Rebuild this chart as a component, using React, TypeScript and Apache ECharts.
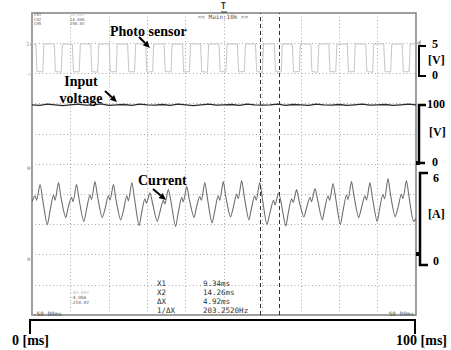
import React, { useEffect, useRef } from "react";
import * as echarts from "echarts";

// time axis (ms) and channel ranges
const timeRange = [0, 100];
const currentRange = [-4, 16]; // A, 2 A/div
const photoRange = [-40, 10]; // V, 5 V/div
const voltageRange = [-250, 250]; // V, 50 V/div
const cursorTimes = [59.34, 64.26];

// photo sensor (V) [t ms, v]
const photoPoints: [number, number][] = [
  [0, 4.85], [1.0, 4.85], [1.3, 0.3], [2.8, 0.25], [3.1, 4.85],
  [5.8, 4.9], [6.1, 0.3], [7.6, 0.2], [7.9, 4.85],
  [10.5, 4.85], [10.8, 0.25], [12.3, 0.3], [12.6, 4.9],
  [15.3, 4.85], [15.6, 0.3], [17.1, 0.2], [17.4, 4.85],
  [20.1, 4.9], [20.4, 0.25], [21.9, 0.3], [22.2, 4.85],
  [24.9, 4.85], [25.2, 0.3], [26.7, 0.25], [27.0, 4.9],
  [29.6, 4.85], [29.9, 0.2], [31.4, 0.3], [31.7, 4.85],
  [34.4, 4.9], [34.7, 0.3], [36.2, 0.25], [36.5, 4.85],
  [39.2, 4.85], [39.5, 0.25], [41.0, 0.3], [41.3, 4.9],
  [43.9, 4.85], [44.2, 0.3], [45.7, 0.2], [46.0, 4.85],
  [48.7, 4.9], [49.0, 0.3], [50.5, 0.25], [50.8, 4.85],
  [53.5, 4.85], [53.8, 0.25], [55.3, 0.3], [55.6, 4.9],
  [58.2, 4.85], [58.5, 0.3], [60.0, 0.2], [60.3, 4.85],
  [63.1, 4.9], [63.4, 0.3], [64.9, 0.25], [65.2, 4.85],
  [67.8, 4.85], [68.1, 0.25], [69.6, 0.3], [69.9, 4.9],
  [72.6, 4.85], [72.9, 0.3], [74.4, 0.2], [74.7, 4.85],
  [77.3, 4.9], [77.6, 0.3], [79.1, 0.25], [79.4, 4.85],
  [82.1, 4.85], [82.4, 0.25], [83.9, 0.3], [84.2, 4.9],
  [86.9, 4.85], [87.2, 0.3], [88.7, 0.2], [89.0, 4.85],
  [91.6, 4.9], [91.9, 0.3], [93.4, 0.25], [93.7, 4.85],
  [96.4, 4.85], [96.7, 0.25], [98.2, 0.3], [98.5, 4.9],
  [100, 4.85],
];

// input voltage (V) [t ms, v]
const voltagePoints: [number, number][] = [
  [0, 98], [2, 97], [4, 99], [6, 98], [8, 96.5], [10, 98], [12, 99], [14, 97.5],
  [16, 98], [18, 99.5], [20, 97], [22, 98], [24, 98.5], [26, 97], [28, 99], [30, 98],
  [32, 97.5], [34, 98.5], [36, 97], [38, 99], [40, 98], [42, 96.5], [44, 98], [46, 99],
  [48, 97.5], [50, 98], [52, 98.5], [54, 97], [56, 99], [58, 98], [60, 97.5], [62, 98],
  [64, 99], [66, 97], [68, 98.5], [70, 98], [72, 97], [74, 99], [76, 98], [78, 97.5],
  [80, 98.5], [82, 97], [84, 98], [86, 99], [88, 97.5], [90, 98], [92, 98.5], [94, 97],
  [96, 98], [98, 99], [100, 98],
];

// current (A) [t ms, i]
const currentPoints: [number, number][] = [
  [0, 3.5], [0.8, 3.9], [1.2, 3.6], [2.1, 4.64], [2.8, 3.6], [4.0, 1.99],
  [4.7, 2.9], [5.6, 3.95], [6.0, 3.6], [6.9, 4.77], [7.6, 3.7], [8.8, 2.45],
  [9.4, 3.1], [10.3, 3.8], [10.7, 3.5], [11.6, 4.64], [12.3, 3.6], [13.5, 2.19],
  [14.2, 3.0], [15.1, 3.95], [15.5, 3.65], [16.4, 4.83], [17.1, 3.8], [18.3, 2.45],
  [19.0, 3.0], [19.9, 3.9], [20.3, 3.6], [21.2, 4.64], [21.9, 3.6], [23.1, 2.3],
  [23.8, 2.9], [24.7, 3.9], [25.1, 3.55], [26.0, 4.77], [26.7, 3.7], [27.9, 1.92],
  [28.5, 2.7], [29.4, 3.7], [29.8, 3.4], [30.7, 4.1], [31.4, 3.4], [32.6, 2.2],
  [33.3, 2.8], [34.2, 3.6], [34.6, 3.35], [35.5, 4.3], [36.2, 3.5], [37.4, 1.85],
  [38.1, 2.8], [39.0, 3.8], [39.4, 3.5], [40.3, 4.5], [41.0, 3.6], [42.2, 2.45],
  [42.8, 3.1], [43.7, 3.85], [44.1, 3.6], [45.0, 4.77], [45.7, 3.7], [46.9, 2.1],
  [47.6, 2.9], [48.5, 3.9], [48.9, 3.6], [49.8, 4.83], [50.5, 3.8], [51.7, 2.5],
  [52.4, 3.1], [53.3, 4.0], [53.7, 3.7], [54.6, 4.9], [55.3, 3.8], [56.5, 2.3],
  [57.1, 3.0], [58.0, 3.9], [58.4, 3.6], [59.3, 4.77], [60.0, 3.7], [61.2, 2.0],
  [62.0, 2.8], [62.9, 3.6], [63.3, 3.3], [64.2, 4.1], [64.9, 3.4], [66.1, 1.9],
  [66.7, 2.7], [67.6, 3.7], [68.0, 3.45], [68.9, 4.3], [69.6, 3.5], [70.8, 2.5],
  [71.5, 3.1], [72.4, 3.8], [72.8, 3.5], [73.7, 4.37], [74.4, 3.6], [75.6, 2.3],
  [76.2, 3.0], [77.1, 3.9], [77.5, 3.6], [78.4, 4.7], [79.1, 3.7], [80.3, 2.0],
  [81.0, 2.9], [81.9, 3.95], [82.3, 3.65], [83.2, 4.83], [83.9, 3.8], [85.1, 2.45],
  [85.8, 3.1], [86.7, 3.9], [87.1, 3.6], [88.0, 4.77], [88.7, 3.7], [89.9, 2.2],
  [90.5, 3.0], [91.4, 4.0], [91.8, 3.7], [92.7, 5.03], [93.4, 3.9], [94.6, 2.5],
  [95.3, 3.1], [96.2, 4.0], [96.6, 3.7], [97.5, 4.9], [98.2, 3.8], [99.4, 2.2],
  [100, 2.4],
];

// scope texts
const channelNames = ["CH1", "CH2", "CH5"];
const channelTop = ["40.00V", "16.00A", "250.0V"];
const channelBottom = ["-40.00V", "-4.00A", "-250.0V"];
const cursorNames = ["X1", "X2", "\u0394X", "1/\u0394X"];
const cursorValues = ["9.34ms", "14.26ms", "4.92ms", "203.2520Hz"];

const SERIF = '"Liberation Serif", "Times New Roman", serif';
const MONO = '"DejaVu Sans Mono", "Liberation Mono", monospace';

function txt(text: string, x: number, y: number, font: string, fill = "#000", align = "left") {
  return {
    type: "text",
    z: 100,
    style: { text, x, y, font, fill, align, verticalAlign: "middle" },
  };
}

function arrow(x1: number, y1: number, x2: number, y2: number) {
  const dx = x2 - x1;
  const dy = y2 - y1;
  const len = Math.sqrt(dx * dx + dy * dy);
  const ux = dx / len;
  const uy = dy / len;
  const hl = 7;
  const hw = 3.2;
  const bx = x2 - ux * hl;
  const by = y2 - uy * hl;
  return [
    {
      type: "line",
      z: 100,
      shape: { x1, y1, x2: bx, y2: by },
      style: { stroke: "#000", lineWidth: 2 },
    },
    {
      type: "polygon",
      z: 100,
      shape: {
        points: [
          [x2, y2],
          [bx - uy * hw, by + ux * hw],
          [bx + uy * hw, by - ux * hw],
        ],
      },
      style: { fill: "#000" },
    },
  ];
}

function bracket(pts: number[][], w = 2) {
  return {
    type: "polyline",
    z: 100,
    shape: { points: pts },
    style: { stroke: "#000", lineWidth: w, fill: "none" },
  };
}

export default function App() {
  const ref = useRef<HTMLDivElement>(null);
  useEffect(() => {
    if (!ref.current) return;
    const chart = echarts.init(ref.current, null, { renderer: "svg" });
    const gridLine = { color: "#a8a8a8", width: 1, type: [1, 2.5] as any };
    const graphics: any[] = [];
    // top-left channel info
    channelNames.forEach((n, i) => {
      graphics.push(txt(n, 34, 14.5 + i * 4.7, `4px ${MONO}`, "#666"));
      graphics.push(txt(channelTop[i], 70, 14.5 + i * 4.7, `4px ${MONO}`, i === 0 ? "#bbb" : "#666"));
      graphics.push(txt(channelBottom[i], 70, 292.5 + i * 5.2, `4.5px ${MONO}`, i === 0 ? "#bbb" : "#666"));
    });
    graphics.push(txt("<< Main:10k >>", 223, 16, `6px ${MONO}`, "#555", "center"));
    graphics.push(txt("T", 223.5, 6.5, `bold 8px ${MONO}`, "#333", "center"));
    graphics.push({ type: "line", z: 100, shape: { x1: 221, y1: 12, x2: 227, y2: 12 }, style: { stroke: "#333", lineWidth: 1 } });
    graphics.push(txt("-50.00ms", 33, 313, `6px ${MONO}`, "#555"));
    graphics.push(txt("50.00ms", 414, 313, `6px ${MONO}`, "#555", "right"));
    cursorNames.forEach((n, i) => {
      graphics.push(txt(n, 157, 283.5 + i * 9, `7.5px ${MONO}`, "#333"));
      graphics.push(txt(cursorValues[i], 203, 283.5 + i * 9, `7.5px ${MONO}`, "#333"));
    });
    // left channel markers
    graphics.push(txt("1\u25B8", 26, 43, `6px ${MONO}`, "#aaa"));
    graphics.push(txt("\u2212F", 27, 74, `5px ${MONO}`, "#aaa"));
    graphics.push(txt("\u2295", 27, 167, `6px ${MONO}`, "#888"));
    graphics.push(txt("\u2295", 27, 258, `6px ${MONO}`, "#888"));
    // right-edge markers
    graphics.push({ type: "polygon", z: 100, shape: { points: [[416, 43], [421, 40], [421, 46]] }, style: { fill: "#bbb" } });
    graphics.push({ type: "rect", z: 100, shape: { x: 416, y: 161, width: 4, height: 4 }, style: { fill: "#000" } });
    graphics.push({ type: "rect", z: 100, shape: { x: 416, y: 252, width: 4, height: 4 }, style: { fill: "#000" } });
    // annotations
    const bold14 = `bold 14px ${SERIF}`;
    const bold12 = `bold 12px ${SERIF}`;
    graphics.push(txt("Photo sensor", 110, 31, bold14));
    graphics.push(...arrow(139, 37, 150, 48));
    graphics.push(txt("Input", 81, 81, bold14, "#000", "center"));
    graphics.push(txt("voltage", 81, 98, bold14, "#000", "center"));
    graphics.push(...arrow(105, 91, 117, 102));
    graphics.push(txt("Current", 138, 180, bold14));
    graphics.push(...arrow(153, 189, 166, 200));
    // right brackets
    graphics.push(bracket([[426, 46], [419, 46], [419, 76], [426, 76]]));
    graphics.push(txt("5", 432, 44, bold12));
    graphics.push(txt("[V]", 428, 60, bold12));
    graphics.push(txt("0", 432, 75, bold12));
    graphics.push(bracket([[426, 105], [419, 105], [419, 163], [425, 163]], 2.5));
    graphics.push(txt("100", 427, 104, bold12));
    graphics.push(txt("[V]", 429, 132, bold12));
    graphics.push(txt("0", 432, 161.5, bold12));
    graphics.push(bracket([[428, 173], [420, 173], [420, 265], [428, 265]], 2.5));
    graphics.push(txt("6", 433, 177.5, bold12));
    graphics.push(txt("[A]", 428, 214, bold12));
    graphics.push(txt("0", 433, 261, bold12));
    // bottom bracket
    graphics.push(bracket([[30, 334], [30, 320], [415, 320], [415, 334]], 2));
    graphics.push(txt("0 [ms]", 12, 340, bold14));
    graphics.push(txt("100 [ms]", 447, 340, bold14, "#000", "right"));

    chart.setOption({
      animation: false,
      backgroundColor: "#fff",
      grid: {
        left: 32,
        top: 13,
        width: 384,
        height: 302,
        show: true,
        borderColor: "#7d7d7d",
        borderWidth: 1.5,
        backgroundColor: "#fff",
      },
      xAxis: {
        type: "value",
        min: timeRange[0],
        max: timeRange[1],
        interval: 10,
        axisLine: { show: false },
        axisTick: { show: false },
        axisLabel: { show: false },
        splitLine: { show: true, lineStyle: gridLine },
      },
      yAxis: [
        {
          type: "value",
          min: currentRange[0],
          max: currentRange[1],
          interval: 2,
          axisLine: { show: false },
          axisTick: { show: false },
          axisLabel: { show: false },
          splitLine: { show: true, lineStyle: gridLine },
        },
        { type: "value", min: photoRange[0], max: photoRange[1], show: false, splitLine: { show: false } },
        { type: "value", min: voltageRange[0], max: voltageRange[1], show: false, splitLine: { show: false } },
      ],
      series: [
        {
          name: "Photo sensor",
          type: "line",
          yAxisIndex: 1,
          data: photoPoints,
          symbol: "none",
          lineStyle: { color: "#c6c6c6", width: 1 },
        },
        {
          name: "Input voltage",
          type: "line",
          yAxisIndex: 2,
          data: voltagePoints,
          symbol: "none",
          lineStyle: { color: "#2a2a2a", width: 1.3 },
        },
        {
          name: "Current",
          type: "line",
          yAxisIndex: 0,
          data: currentPoints,
          symbol: "none",
          smooth: 0.25,
          lineStyle: { color: "#6e6e6e", width: 1.1 },
          markLine: {
            symbol: "none",
            silent: true,
            label: { show: false },
            lineStyle: { color: "#333", width: 1, type: [4, 3] as any },
            data: cursorTimes.map((t) => ({ xAxis: t })),
          },
        },
      ],
      graphic: graphics,
    });
    return () => chart.dispose();
  }, []);
  return (
    <div
      ref={ref}
      style={{ position: "fixed", left: 0, top: 0, width: 451, height: 350, background: "#fff" }}
    />
  );
}
